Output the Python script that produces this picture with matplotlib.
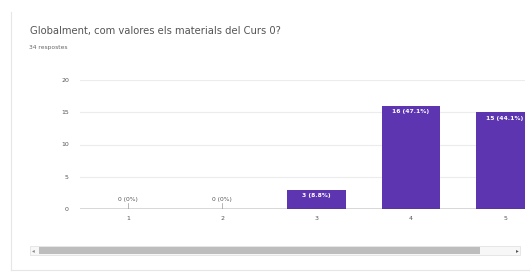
import matplotlib
matplotlib.use("Agg")
import matplotlib.pyplot as plt
from matplotlib.patches import Rectangle
from matplotlib.lines import Line2D

title = "Globalment, com valores els materials del Curs 0?"
subtitle = "34 respostes"
categories = ["1", "2", "3", "4", "5"]
values = [0, 0, 3, 16, 15]
labels = ["0 (0%)", "0 (0%)", "3 (8.8%)", "16 (47.1%)", "15 (44.1%)"]
yticks = [0, 5, 10, 15, 20]

W, H = 530, 274
fig = plt.figure(figsize=(W / 100, H / 100), dpi=100)
fig.patch.set_facecolor("white")

def fx(px):
    return px / W

def fy(py):
    return 1 - py / H

# card border
fig.add_artist(Line2D([fx(11), fx(11)], [fy(12), fy(270)], color="#e6e6e6", lw=0.8))
fig.add_artist(Line2D([fx(11), fx(530)], [fy(270), fy(270)], color="#e6e6e6", lw=0.8))

fig.text(fx(30), fy(31), title, fontsize=7.2, color="#555555", va="center", ha="left")
fig.text(fx(29), fy(48), subtitle, fontsize=4.3, color="#666666", va="center", ha="left")

# axes: x from 80 px to 525 px, y 0 at 209 px, 20 at 80 px
left, right = 80, 525
ax = fig.add_axes([fx(left), fy(209), fx(right - left), (209 - 80) / H])
x = list(range(1, len(categories) + 1))
spacing = 94.5
xmin = 1 - (128 - left) / spacing
xmax = 5 + (right - 505) / spacing
ax.set_xlim(xmin, xmax)
ax.set_ylim(0, 20)
ax.bar(x, values, width=0.62, color="#5e35b1", zorder=3)

for s in ax.spines.values():
    s.set_visible(False)
ax.axhline(0, color="#444444", lw=1.0, zorder=4)
ax.set_yticks(yticks)
ax.set_yticklabels([str(t) for t in yticks], fontsize=4.5, color="#555555")
ax.set_xticks(x)
ax.set_xticklabels(categories, fontsize=4.5, color="#555555")
ax.tick_params(axis="both", length=0, pad=8)
ax.tick_params(axis="x", pad=5)
ax.grid(axis="y", color="#ececec", lw=0.8, zorder=0)
ax.set_axisbelow(True)

for xi, v, lab in zip(x, values, labels):
    if v == 0:
        ax.text(xi, 1.4, lab, ha="center", va="center", fontsize=4.3, color="#555555", zorder=5)
        ax.plot([xi, xi], [0, 0.9], color="#999999", lw=0.5, zorder=5)
    else:
        ax.text(xi, v - 0.9, lab, ha="center", va="center", fontsize=4.3, color="white",
                fontweight="bold", zorder=5, clip_on=True)

# scrollbar
fig.add_artist(Rectangle((fx(30), fy(255)), fx(490), 9 / H, facecolor="#f7f7f7",
                         edgecolor="#e3e3e3", lw=0.6))
fig.add_artist(Rectangle((fx(39), fy(254)), fx(441), 7 / H, facecolor="#bdbdbd",
                         edgecolor="none"))
fig.text(fx(33), fy(250.5), "\u25c2", fontsize=4, color="#888888", ha="center", va="center")
fig.text(fx(517), fy(250.5), "\u25b8", fontsize=4, color="#555555", ha="center", va="center")

fig.savefig("out.png", dpi=100, facecolor="white")
